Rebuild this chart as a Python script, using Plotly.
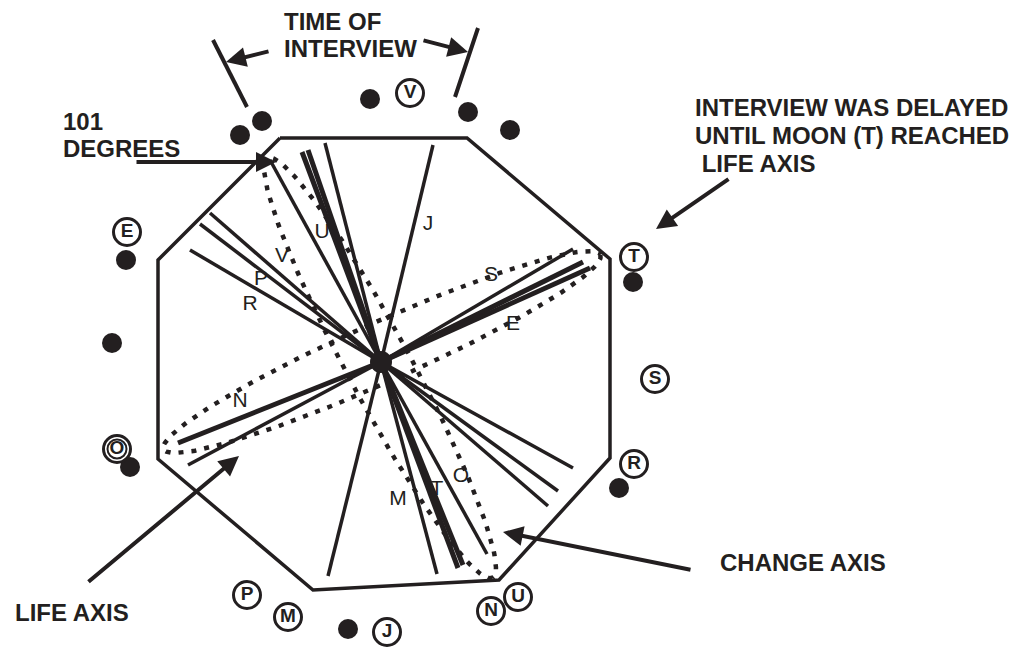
import numpy as np
import plotly.graph_objects as go

W, H = 1016, 647
FONT = "Liberation Sans, Arial, sans-serif"

# hub of the radial lines
hub_x, hub_y = 381, 362

# octagon outline vertices
oct_x = [280, 467, 610, 610, 499, 313, 158, 158, 280]
oct_y = [138, 138, 259, 458, 580, 590, 459, 260, 138]

# radial lines: end points (normal weight)
ray_x = [190, 200, 210, 270, 325, 433, 573, 573, 558, 548, 328, 437, 487, 188]
ray_y = [250, 224, 213, 160, 143, 145, 249, 468, 491, 506, 576, 574, 554, 465]
# radial lines: end points (heavy weight)
heavy_x = [302, 308, 583, 590, 178, 458, 463]
heavy_y = [152, 150, 262, 268, 443, 568, 565]

# dotted axes ellipses: centre, semi-axes, tilt (deg)
life_ell = dict(cx=382, cy=352, a=239, b=30, ang=-24.0)
change_ell = dict(cx=380, cy=368, a=238, b=32, ang=61.8)

# filled dots
dot_x = [240, 262, 370, 468, 510, 126, 112, 130, 633, 619, 348]
dot_y = [135, 121, 99, 112, 130, 260, 343, 467, 282, 488, 629]

# circled letters
circ_lab = ["V", "E", "T", "S", "R", "O", "P", "M", "J", "N", "U"]
circ_x = [410, 127, 634, 655, 634, 117, 247, 288, 387, 491, 518]
circ_y = [93, 232, 257, 379, 464, 449, 595, 617, 632, 611, 597]

# letters along lines
line_lab = ["U", "V", "P", "R", "J", "S", "E", "N", "M", "T", "O"]
line_lab_x = [322, 282, 261, 250, 428, 491, 513, 240, 398, 437, 461]
line_lab_y = [233, 257, 280, 305, 225, 276, 325, 402, 500, 490, 477]

# "time of interview" tick lines
tick_x0 = [213, 478]
tick_y0 = [40, 28]
tick_x1 = [247, 455]
tick_y1 = [107, 97]

# arrows: tail -> head
arr_tail_x = [270, 422, 135, 730, 87, 692]
arr_tail_y = [51, 40, 162, 178, 583, 570]
arr_head_x = [226, 468, 276, 656, 239, 503]
arr_head_y = [62, 52, 162, 229, 456, 532]

# captions
cap_text = ["TIME OF", "INTERVIEW", "101", "DEGREES",
            "INTERVIEW WAS DELAYED", "UNTIL MOON (T) REACHED", "\u00a0LIFE AXIS",
            "LIFE AXIS", "CHANGE AXIS"]
cap_x = [282, 282, 61, 61, 693, 693, 693, 13, 718]
cap_y = [21, 48, 121, 148, 107, 135, 163, 612, 562]

fig = go.Figure()
BLACK = "#231f20"

def ellipse(e):
    t = np.linspace(0, 2 * np.pi, 200)
    th = np.deg2rad(e["ang"])
    xs = e["cx"] + e["a"] * np.cos(t) * np.cos(th) - e["b"] * np.sin(t) * np.sin(th)
    ys = e["cy"] + e["a"] * np.cos(t) * np.sin(th) + e["b"] * np.sin(t) * np.cos(th)
    return xs, ys

for e in (life_ell, change_ell):
    xs, ys = ellipse(e)
    fig.add_trace(go.Scatter(x=xs, y=ys, mode="lines",
                             line=dict(color=BLACK, width=4.5, dash="5px,8px"),
                             hoverinfo="skip"))

fig.add_trace(go.Scatter(x=oct_x, y=oct_y, mode="lines",
                         line=dict(color=BLACK, width=3.5), hoverinfo="skip"))

def rays(xs, ys, w):
    px, py = [], []
    for x, y in zip(xs, ys):
        px += [hub_x, x, None]
        py += [hub_y, y, None]
    fig.add_trace(go.Scatter(x=px, y=py, mode="lines",
                             line=dict(color=BLACK, width=w), hoverinfo="skip"))

rays(ray_x, ray_y, 3.5)
rays(heavy_x, heavy_y, 5)

tx, ty = [], []
for a, b, c, d in zip(tick_x0, tick_y0, tick_x1, tick_y1):
    tx += [a, c, None]
    ty += [b, d, None]
fig.add_trace(go.Scatter(x=tx, y=ty, mode="lines",
                         line=dict(color=BLACK, width=4), hoverinfo="skip"))

fig.add_trace(go.Scatter(x=dot_x + [hub_x], y=dot_y + [hub_y], mode="markers",
                         marker=dict(color=BLACK, size=[20] * len(dot_x) + [22],
                                     opacity=1, line=dict(width=0)),
                         hoverinfo="skip"))

fig.add_trace(go.Scatter(x=circ_x, y=circ_y, mode="markers+text", text=circ_lab,
                         textposition="middle center",
                         textfont=dict(family=FONT, size=19, color=BLACK, weight="bold"),
                         marker=dict(symbol="circle-open", size=27, color=BLACK,
                                     opacity=1, line=dict(width=3, color=BLACK)),
                         hoverinfo="skip"))
# inner ring of the double circle (O)
fig.add_trace(go.Scatter(x=[circ_x[5]], y=[circ_y[5]], mode="markers",
                         marker=dict(symbol="circle-open", size=19, color=BLACK,
                                     opacity=1, line=dict(width=2, color=BLACK)),
                         hoverinfo="skip"))

fig.add_trace(go.Scatter(x=line_lab_x, y=line_lab_y, mode="text", text=line_lab,
                         textposition="middle center",
                         textfont=dict(family=FONT, size=21, color=BLACK),
                         hoverinfo="skip"))

annotations = []
for a, b, c, d in zip(arr_tail_x, arr_tail_y, arr_head_x, arr_head_y):
    annotations.append(dict(x=c, y=d, ax=a, ay=b, xref="x", yref="y",
                            axref="x", ayref="y", text="", showarrow=True,
                            arrowhead=2, arrowsize=1, arrowwidth=4,
                            arrowcolor=BLACK, standoff=0))
for t, x, y in zip(cap_text, cap_x, cap_y):
    annotations.append(dict(x=x, y=y, xref="x", yref="y", text=t, showarrow=False,
                            xanchor="left", yanchor="middle",
                            font=dict(family=FONT, size=24, color=BLACK, weight="bold")))

fig.update_layout(
    width=W, height=H, margin=dict(l=0, r=0, t=0, b=0),
    paper_bgcolor="white", plot_bgcolor="white", showlegend=False,
    xaxis=dict(range=[0, W], visible=False, fixedrange=True),
    yaxis=dict(range=[H, 0], visible=False, fixedrange=True),
    annotations=annotations,
)

fig.write_html("out.html", config={"displayModeBar": False},
               post_script="document.body.style.margin='0';")
